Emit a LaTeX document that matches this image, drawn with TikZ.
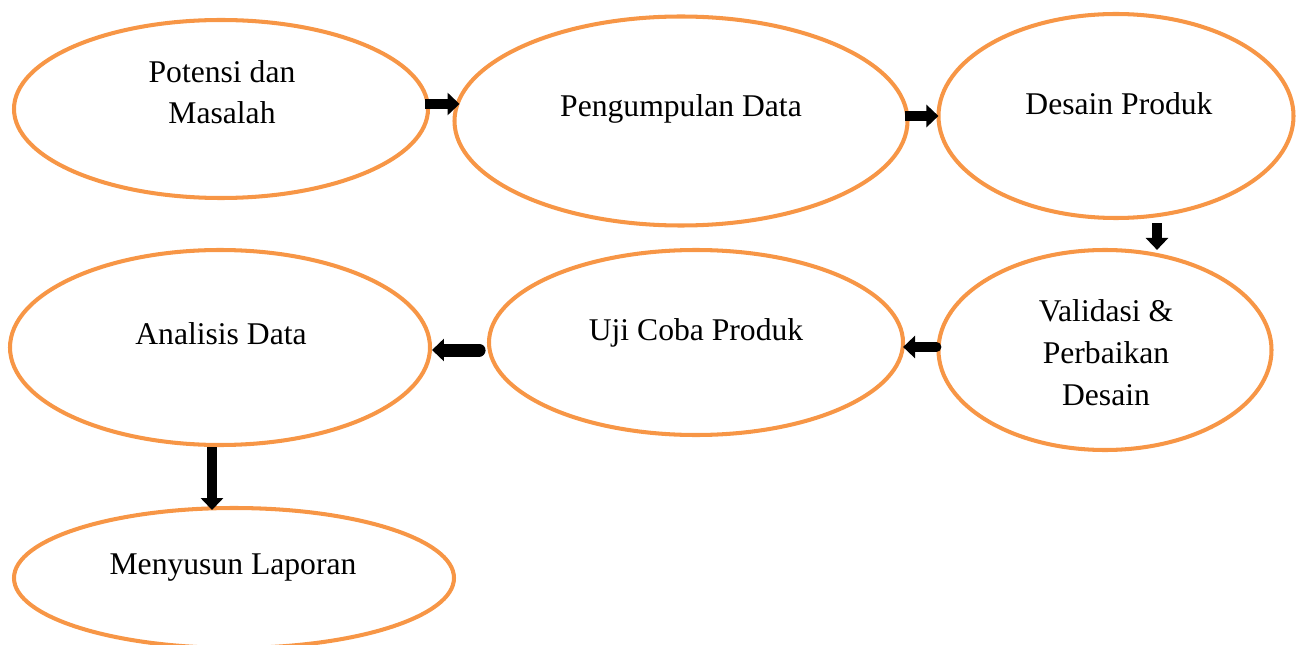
\documentclass[tikz,border=0pt]{standalone}
\usepackage{fontspec}
\setmainfont{Liberation Serif}
\usetikzlibrary{arrows.meta,shapes.geometric}
\definecolor{ovalorange}{HTML}{F79646}

\begin{document}
\begin{tikzpicture}[x=0.02cm, y=-0.02cm, >={Triangle[length=6.8pt, width=12.5pt]},
    font=\fontsize{18pt}{23.8pt}\selectfont,
    oval/.style={ellipse, draw=ovalorange, line width=2.3pt, inner sep=0pt},
    lbl/.style={anchor=base, align=center, inner sep=0pt},
    flow/.style={->, line width=5.6pt}]
    \useasboundingbox (0,0) rectangle (1298,645);

    % ovals
    \node[oval, minimum width=414*0.02cm, minimum height=178*0.02cm] (potensi)     at (221,109)   {};
    \node[oval, minimum width=453*0.02cm, minimum height=209*0.02cm] (pengumpulan) at (681,121)   {};
    \node[oval, minimum width=355*0.02cm, minimum height=204*0.02cm] (desain)      at (1116,116)  {};
    \node[oval, minimum width=333*0.02cm, minimum height=200*0.02cm] (validasi)    at (1105,350)  {};
    \node[oval, minimum width=414*0.02cm, minimum height=185*0.02cm] (ujicoba)     at (696,342.5) {};
    \node[oval, minimum width=420*0.02cm, minimum height=195*0.02cm] (analisis)    at (220,347.5) {};
    \node[oval, minimum width=440*0.02cm, minimum height=140*0.02cm] (laporan)     at (234,578)   {};

    % texts (base = last line)
    \node[lbl] (potensi-t)     at (222,124) {Potensi dan\\Masalah};
    \node[lbl] (pengumpulan-t) at (681,117) {Pengumpulan Data};
    \node[lbl] (desain-t)      at (1119,115) {Desain Produk};
    \node[lbl] (validasi-t)    at (1106,405) {Validasi \&\\Perbaikan\\Desain};
    \node[lbl] (ujicoba-t)     at (696,340) {Uji Coba Produk};
    \node[lbl] (analisis-t)    at (221,344) {Analisis Data};
    \node[lbl] (laporan-t)     at (233,574) {Menyusun Laporan};

    % arrows
    \draw[flow, shorten <=-2.8pt, shorten >=-4pt] (potensi.east |- 0,104) -- (pengumpulan.west |- 0,104);
    \draw[flow, shorten <=-2.3pt, shorten >=-1.1pt] (pengumpulan.east |- 0,116) -- (desain.west |- 0,116);
    \draw[flow, shorten <=1.7pt, shorten >=-1.1pt] (desain.south -| 1157,0) -- (validasi.north -| 1157,0);
    \draw[flow, line cap=round, shorten >=-1.1pt] (validasi.west |- 0,347) -- (ujicoba.east |- 0,347);
    \draw[flow, line cap=round, line width=7.4pt, shorten <=4.5pt] (ujicoba.west |- 0,350) -- (analisis.east |- 0,350);
    \draw[flow, line width=6.2pt, shorten >=-2.3pt] (analisis.south -| 212,0) -- (laporan.north -| 212,0);
\end{tikzpicture}
\end{document}
